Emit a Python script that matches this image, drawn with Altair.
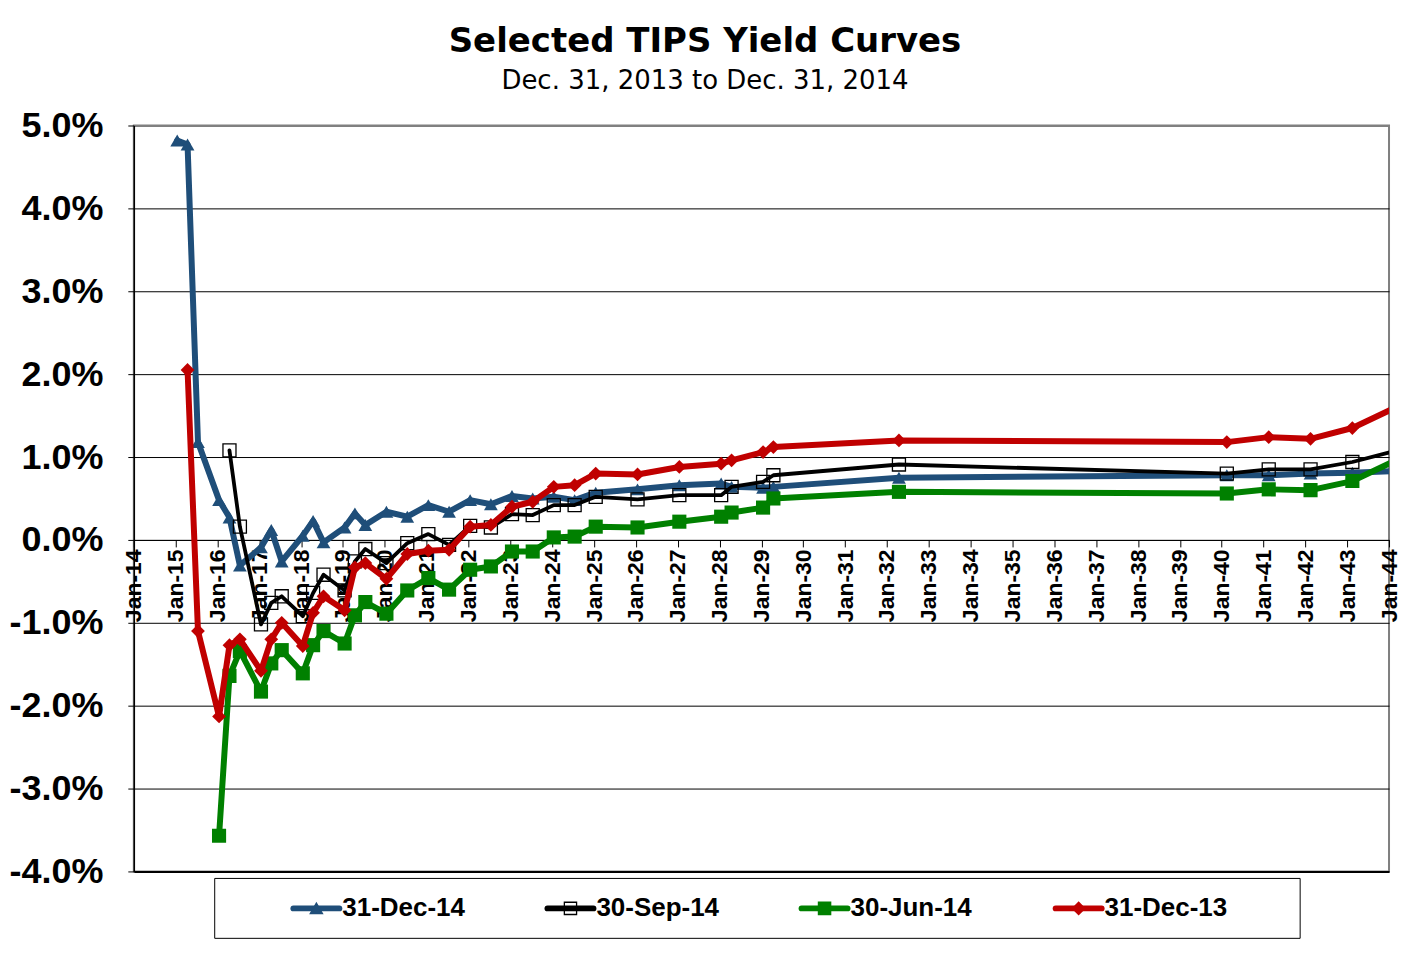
import altair as alt
import pandas as pd

# ---------------- data ----------------
series_names = ["31-Dec-14", "30-Sep-14", "30-Jun-14", "31-Dec-13"]
series_colors = ["#1F4E79", "#000000", "#008000", "#C00000"]
series_shapes = ["triangle-up", "square", "square", "diamond"]

dec14_dates = ["2015-01-15", "2015-04-15", "2015-07-15", "2016-01-15", "2016-04-15", "2016-07-15",
               "2017-01-15", "2017-04-15", "2017-07-15", "2018-01-15", "2018-04-15", "2018-07-15",
               "2019-01-15", "2019-04-15", "2019-07-15", "2020-01-15", "2020-07-15", "2021-01-15",
               "2021-07-15", "2022-01-15", "2022-07-15", "2023-01-15", "2023-07-15", "2024-01-15",
               "2024-07-15", "2025-01-15", "2026-01-15", "2027-01-15", "2028-01-15", "2028-04-15",
               "2029-01-15", "2029-04-15", "2032-04-15", "2040-02-15", "2041-02-15", "2042-02-15",
               "2043-02-15", "2044-02-15"]
dec14_yields = [4.82, 4.77, 1.18, 0.48, 0.27, -0.31,
                -0.09, 0.12, -0.26, 0.05, 0.23, -0.03,
                0.15, 0.32, 0.18, 0.34, 0.28, 0.42,
                0.34, 0.48, 0.43, 0.53, 0.50, 0.52,
                0.48, 0.57, 0.61, 0.66, 0.68, 0.64,
                0.63, 0.64, 0.75, 0.78, 0.78, 0.80,
                0.81, 0.83]

sep14_dates = ["2016-04-15", "2016-07-15", "2017-01-15", "2017-04-15", "2017-07-15", "2018-01-15",
               "2018-04-15", "2018-07-15", "2019-01-15", "2019-04-15", "2019-07-15", "2020-01-15",
               "2020-07-15", "2021-01-15", "2021-07-15", "2022-01-15", "2022-07-15", "2023-01-15",
               "2023-07-15", "2024-01-15", "2024-07-15", "2025-01-15", "2026-01-15", "2027-01-15",
               "2028-01-15", "2028-04-15", "2029-01-15", "2029-04-15", "2032-04-15", "2040-02-15",
               "2041-02-15", "2042-02-15", "2043-02-15", "2044-02-15"]
sep14_yields = [1.08, 0.16, -1.02, -0.76, -0.68, -0.92,
                -0.64, -0.42, -0.61, -0.26, -0.11, -0.28,
                -0.04, 0.07, -0.06, 0.17, 0.15, 0.31,
                0.30, 0.42, 0.42, 0.52, 0.49, 0.54,
                0.54, 0.64, 0.70, 0.78, 0.91, 0.80,
                0.85, 0.85, 0.94, 1.07]

jun14_dates = ["2016-01-15", "2016-04-15", "2016-07-15", "2017-01-15", "2017-04-15", "2017-07-15",
               "2018-01-15", "2018-04-15", "2018-07-15", "2019-01-15", "2019-04-15", "2019-07-15",
               "2020-01-15", "2020-07-15", "2021-01-15", "2021-07-15", "2022-01-15", "2022-07-15",
               "2023-01-15", "2023-07-15", "2024-01-15", "2024-07-15", "2025-01-15", "2026-01-15",
               "2027-01-15", "2028-01-15", "2028-04-15", "2029-01-15", "2029-04-15", "2032-04-15",
               "2040-02-15", "2041-02-15", "2042-02-15", "2043-02-15", "2044-02-15"]
jun14_yields = [-3.57, -1.64, -1.34, -1.83, -1.49, -1.33,
                -1.61, -1.27, -1.10, -1.25, -0.91, -0.75,
                -0.89, -0.61, -0.46, -0.60, -0.36, -0.32,
                -0.14, -0.14, 0.03, 0.04, 0.16, 0.15,
                0.22, 0.28, 0.33, 0.39, 0.50, 0.58,
                0.56, 0.61, 0.60, 0.71, 0.95]

dec13_dates = ["2015-04-15", "2015-07-15", "2016-01-15", "2016-04-15", "2016-07-15", "2017-01-15",
               "2017-04-15", "2017-07-15", "2018-01-15", "2018-04-15", "2018-07-15", "2019-01-15",
               "2019-04-15", "2019-07-15", "2020-01-15", "2020-07-15", "2021-01-15", "2021-07-15",
               "2022-01-15", "2022-07-15", "2023-01-15", "2023-07-15", "2024-01-15", "2024-07-15",
               "2025-01-15", "2026-01-15", "2027-01-15", "2028-01-15", "2028-04-15", "2029-01-15",
               "2029-04-15", "2032-04-15", "2040-02-15", "2041-02-15", "2042-02-15", "2043-02-15",
               "2044-02-15"]
dec13_yields = [2.05, -1.10, -2.13, -1.27, -1.20, -1.58,
                -1.20, -1.00, -1.28, -0.88, -0.68, -0.85,
                -0.33, -0.28, -0.47, -0.17, -0.13, -0.12,
                0.16, 0.18, 0.40, 0.46, 0.64, 0.66,
                0.80, 0.79, 0.88, 0.92, 0.96, 1.06,
                1.12, 1.20, 1.18, 1.24, 1.22, 1.35,
                1.59]

y_ticks = [-4, -3, -2, -1, 0, 1, 2, 3, 4, 5]
x_tick_years = list(range(2014, 2045))

# ---------------- tables ----------------
all_dates = [dec14_dates, sep14_dates, jun14_dates, dec13_dates]
all_yields = [dec14_yields, sep14_yields, jun14_yields, dec13_yields]
frames = []
for name, d, v in zip(series_names, all_dates, all_yields):
    frames.append(pd.DataFrame({"series": name, "date": d, "yld": v}))
df = pd.concat(frames, ignore_index=True)
legend_df = pd.DataFrame({"series": series_names})

W, H = 1257, 747

x_enc = alt.X(
    "date:T",
    scale=alt.Scale(type="utc",
                    domain=[alt.DateTime(year=2014, month=1, date=1, utc=True),
                            alt.DateTime(year=2044, month=1, date=1, utc=True)]),
    axis=alt.Axis(
        values=[alt.DateTime(year=yy, month=1, date=1, utc=True) for yy in x_tick_years],
        format="%b-%y", labelAngle=-90, labelFont="Liberation Sans", labelFontWeight="bold",
        labelFontSize=23, labelColor="black", labelPadding=2, labelFlush=False,
        labelOverlap=False, tickColor="black", tickSize=7, tickWidth=1,
        domainColor="black", domainWidth=1, grid=False, title=None, offset=-332),
)
y_enc = alt.Y(
    "yld:Q",
    scale=alt.Scale(domain=[-4, 5], nice=False, zero=False),
    axis=alt.Axis(
        values=y_ticks, title=None,
        labelExpr="replace(format(datum.value, '.1f'), '\u2212', '-') + '%'",
        labelFont="Liberation Sans", labelFontWeight="bold", labelFontSize=36,
        labelColor="black", labelPadding=25, tickColor="black", tickSize=6, tickWidth=1,
        domainColor="black", domainWidth=1.5,
        grid=True,
        gridColor={"condition": {"test": "datum.value == 5", "value": "#808080"}, "value": "black"},
        gridWidth={"condition": {"test": "datum.value == 5 || datum.value == -4", "value": 2}, "value": 1},
    ),
)

base = alt.Chart(df)
inside = "toDate(datum.date) <= toDate('2044-01-01')"

layers = []
line_w = [6, 3.8, 6, 6]
pt_size = [190, 170, 200, 190]
for i, name in enumerate(series_names):
    sub = base.transform_filter(alt.datum.series == name)
    line = sub.mark_line(color=series_colors[i], strokeWidth=line_w[i], strokeJoin="round",
                         strokeCap="round", clip=True).encode(x=x_enc, y=y_enc)
    if name == "30-Sep-14":
        pts = sub.transform_filter(inside).mark_point(
            shape=series_shapes[i], filled=False, color=series_colors[i], size=pt_size[i],
            strokeWidth=1.3, opacity=1, clip=True).encode(x=x_enc, y=y_enc)
    else:
        pts = sub.transform_filter(inside).mark_point(
            shape=series_shapes[i], filled=True, color=series_colors[i], size=pt_size[i],
            opacity=1, clip=True).encode(x=x_enc, y=y_enc)
    layers += [line, pts]

data_layer = alt.layer(*layers)

# ---------------- legend ----------------
LY = 784
leg_x = alt.X("series:N", sort=series_names,
              scale=alt.Scale(type="point", domain=series_names, padding=0.97), axis=None)
leg_color = alt.Color("series:N", scale=alt.Scale(domain=series_names, range=series_colors), legend=None)
leg_fill = alt.Fill("series:N", scale=alt.Scale(domain=series_names,
                    range=[series_colors[0], "transparent", series_colors[2], series_colors[3]]), legend=None)
leg_shape = alt.Shape("series:N", scale=alt.Scale(domain=series_names, range=series_shapes), legend=None)

leg_base = alt.Chart(legend_df)
leg_box = alt.Chart(pd.DataFrame({"series": [series_names[0]]})).mark_rect(
    fill="white", stroke="black", strokeWidth=1).encode(
    x=alt.value(81), x2=alt.value(1168), y=alt.value(LY - 30), y2=alt.value(LY + 30))
leg_line = leg_base.mark_point(shape="stroke", filled=False, size=46 * 46, strokeWidth=6,
                               strokeCap="round", xOffset=-64, opacity=1).encode(
    x=leg_x, y=alt.value(LY), color=leg_color)
leg_pts = leg_base.mark_point(size=150, strokeWidth=1.3, xOffset=-64, opacity=1).encode(
    x=leg_x, y=alt.value(LY), stroke=leg_color, fill=leg_fill, shape=leg_shape)
leg_text = leg_base.mark_text(align="left", baseline="middle", dx=-38, font="Liberation Sans",
                              fontWeight="bold", fontSize=26, color="black").encode(
    x=leg_x, y=alt.value(LY), text="series:N")
legend_layer = alt.layer(leg_box, leg_line, leg_pts, leg_text)

chart = alt.layer(data_layer, legend_layer).resolve_scale(
    x="independent", color="independent", fill="independent", shape="independent", stroke="independent"
).properties(
    width=W, height=H,
    padding={"left": 0, "top": 16, "right": 0, "bottom": 4},
    title=alt.TitleParams(
        text="Selected TIPS Yield Curves",
        subtitle="Dec. 31, 2013 to Dec. 31, 2014",
        font="DejaVu Sans", fontSize=34, fontWeight="bold", color="black",
        subtitleFont="DejaVu Sans", subtitleFontSize=26, subtitleColor="black",
        subtitlePadding=9, anchor="middle", frame="bounds", offset=14),
).configure_view(stroke="#808080", strokeWidth=2)

chart.save("out.html", embed_options={"renderer": "svg", "actions": False})
